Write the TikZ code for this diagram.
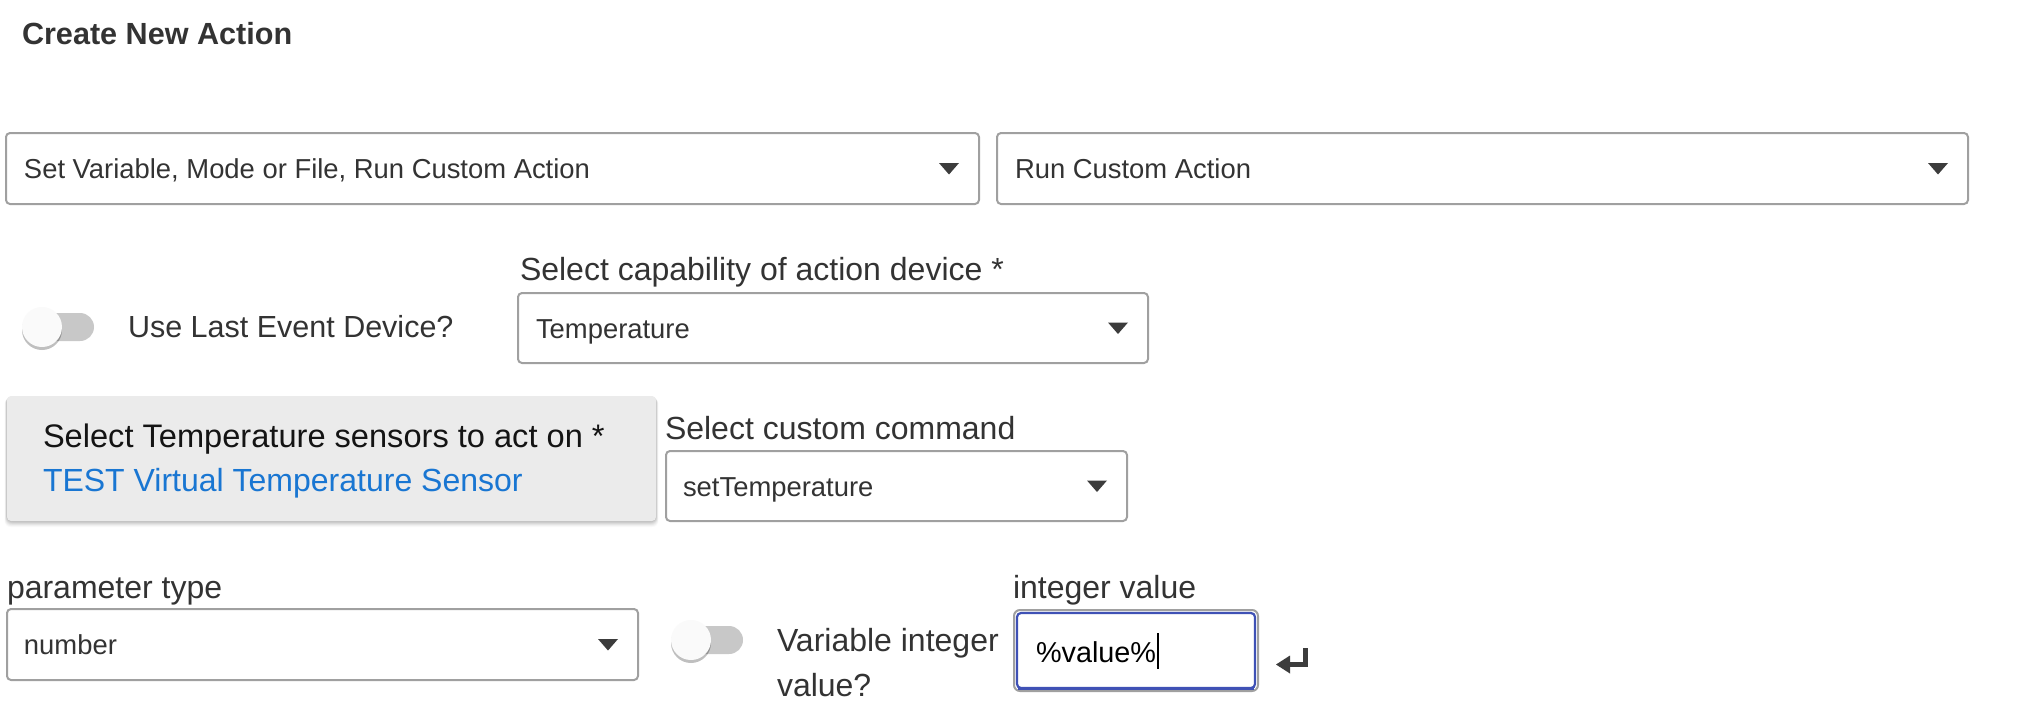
\documentclass[tikz,border=0pt]{standalone}
\usepackage{fontspec}
\setmainfont{Liberation Sans}
\usetikzlibrary{fit,shadows}
\definecolor{txt}{RGB}{51,51,51}
\definecolor{cardtxt}{RGB}{20,20,20}
\definecolor{bordc}{RGB}{160,160,160}
\definecolor{cardfill}{RGB}{235,235,235}
\definecolor{linkblue}{RGB}{25,118,210}
\definecolor{focusblue}{RGB}{63,81,181}
\definecolor{trackc}{RGB}{200,200,200}
\definecolor{thumbc}{RGB}{250,250,250}
\definecolor{arrowc}{RGB}{60,60,60}
\tikzset{
  every node/.style={inner sep=0pt, outer sep=0pt},
  ddbox/.style={draw=bordc, line width=1pt, rounded corners=2pt},
  ddtext/.style={anchor=base west, text=txt, font=\fontsize{13.7pt}{16pt}\selectfont},
  lbl/.style={anchor=base west, text=txt, font=\fontsize{16pt}{19pt}\selectfont},
  ddarrow/.style={fill=arrowc},
  track/.style={fill=trackc, rounded corners=7pt, minimum width=34pt, minimum height=14pt},
  thumb/.style={circle, fill=thumbc, minimum size=20pt,
    drop shadow={shadow xshift=0pt, shadow yshift=-1.5pt, fill=black, opacity=0.25}},
}
\begin{document}
\begin{tikzpicture}[x=0.5pt, y=-0.5pt]
\useasboundingbox (0,0) rectangle (2036,724);
\fill[white] (0,0) rectangle (2036,724);

% title
\node[anchor=base west, text=txt, font=\fontsize{15.3pt}{18pt}\selectfont\bfseries] (title) at (22,44) {Create New Action};

% row 1 dropdowns
\node[ddbox, fit={(6,133)(979,204)}] (dd1) {};
\node[ddtext] (dd1t) at (24,178.3) {Set Variable, Mode or File, Run Custom Action};
\fill[ddarrow, shift={(dd1.east)}] (-40,-5.5) -- (-20,-5.5) -- (-30,6) -- cycle;

\node[ddbox, fit={(997,133)(1968,204)}] (dd2) {};
\node[ddtext] (dd2t) at (1015,178.3) {Run Custom Action};
\fill[ddarrow, shift={(dd2.east)}] (-40,-5.5) -- (-20,-5.5) -- (-30,6) -- cycle;

% row 2
\node[track] (tr1) at (60,327) {};
\node[thumb] (th1) at (42,327) {};
\node[lbl, font=\fontsize{15.25pt}{18pt}\selectfont] (uled) at (128,337) {Use Last Event Device?};

\node[lbl] (capl) at (520,280) {Select capability of action device *};
\node[ddbox, fit={(518,293)(1148,363)}] (dd3) {};
\node[ddtext] (dd3t) at (536,338) {Temperature};
\fill[ddarrow, shift={(dd3.east)}] (-40,-5.5) -- (-20,-5.5) -- (-30,6) -- cycle;

% row 3 card with soft shadow
\foreach \d/\o in {6/0.025,5/0.03,4/0.04,3/0.05,2/0.06,1/0.07}{
  \fill[black, opacity=\o, rounded corners=3pt] (7-0.4*\d,396+0.3*\d) rectangle (656+0.4*\d,521+\d);
}
\node[fit={(7,396)(656,521)}, fill=cardfill, rounded corners=2pt] (card) {};
\node[lbl, text=cardtxt, font=\fontsize{16.3pt}{19pt}\selectfont] (cardl) at (43,447) {Select Temperature sensors to act on *};
\node[lbl, text=linkblue] (cardv) at (43,491) {TEST Virtual Temperature Sensor};

\node[lbl] (cmdl) at (665,439) {Select custom command};
\node[ddbox, fit={(666,451)(1127,521)}] (dd4) {};
\node[ddtext] (dd4t) at (683,496) {setTemperature};
\fill[ddarrow, shift={(dd4.east)}] (-40,-5.5) -- (-20,-5.5) -- (-30,6) -- cycle;

% row 4
\node[lbl] (ptl) at (7,598) {parameter type};
\node[ddbox, fit={(7,609)(638,680)}] (dd5) {};
\node[ddtext] (dd5t) at (24,654.3) {number};
\fill[ddarrow, shift={(dd5.east)}] (-40,-5.5) -- (-20,-5.5) -- (-30,6) -- cycle;

\node[track] (tr2) at (709,640) {};
\node[thumb] (th2) at (691,640) {};
\node[lbl] (vil1) at (777,651) {Variable integer};
\node[lbl] (vil2) at (777,696) {value?};

\node[lbl] (ivl) at (1013,598) {integer value};
\node[fit={(1014,610)(1258,691)}, draw=bordc, line width=1pt, rounded corners=3pt] (inbox) {};
\draw[focusblue, line width=1.1pt, rounded corners=2pt] (1017,613) rectangle (1255,688);
\draw[focusblue, line width=1.5pt] (1018,688) -- (1254,688);
\node[anchor=base west, text=black, font=\fontsize{14.4pt}{17pt}\selectfont] (inval) at (1036,662) {\%value\%};
\coordinate (curtop) at (1158,633);
\coordinate (curbot) at (1158,669);
\draw[black, line width=0.8pt] (curtop) -- (curbot);

% return icon
\coordinate (rettop) at (1305.5,648);
\coordinate (retcorner) at (1305.5,664.5);
\coordinate (retend) at (1288,664.5);
\draw[arrowc, line width=2.6pt] (rettop) -- (retcorner) -- (retend);
\fill[arrowc] (1276,664.5) -- (1290,655.5) -- (1290,673.5) -- cycle;
\end{tikzpicture}
\end{document}
